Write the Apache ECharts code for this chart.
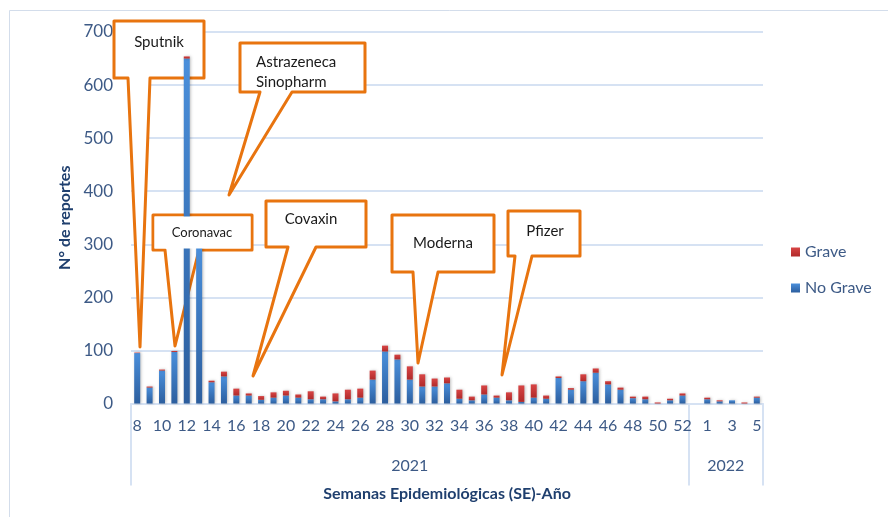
<!DOCTYPE html>
<html>
<head>
<meta charset="utf-8">
<title>Reportes por semana epidemiológica</title>
<script src="https://cdn.jsdelivr.net/npm/echarts@6/dist/echarts.min.js"></script>
<style>
    html, body { margin: 0; padding: 0; background: #fff; }
    #chart { width: 888px; height: 517px; }
</style>
</head>
<body>
<div id="chart"></div>
<script>
// semanas 2021 (8..52), luego un hueco y 2022 (1..5)
var weeks2021 = ['8','9','10','11','12','13','14','15','16','17','18','19','20','21','22','23','24','25','26','27',
    '28','29','30','31','32','33','34','35','36','37','38','39','40','41','42','43','44','45','46','47',
    '48','49','50','51','52'];
var weeks2022 = ['', '1','2','3','4','5'];
var years = ['2021', '2022'];

var noGrave2021 = [95, 30, 62, 97, 650, 296, 40, 51, 15, 15, 7, 11, 15, 11, 8, 8, 4, 8, 11, 45,
    98, 83, 45, 32, 32, 38, 9, 6, 17, 11, 6, 3, 11, 9, 48, 26, 42, 58, 36, 26,
    10, 8, 0, 6, 15];
var grave2021 = [1, 2, 2, 2, 4, 1, 3, 9, 13, 4, 7, 10, 9, 6, 15, 5, 15, 18, 17, 17,
    11, 9, 25, 23, 15, 11, 17, 7, 17, 4, 15, 31, 25, 6, 3, 3, 13, 8, 6, 4,
    3, 5, 2, 3, 4];
var noGrave2022 = [null, 8, 4, 6, 0, 11];
var grave2022 = [null, 3, 2, 0, 2, 2];

var categories = weeks2021.concat(weeks2022);
var noGrave = noGrave2021.concat(noGrave2022);
var grave = grave2021.concat(grave2022);

// limites y centros de cada año sobre el eje
var groupSizes = [weeks2021.length, weeks2022.length];
var bounds = [0], centers = [];
groupSizes.forEach(function (n, i) {
    centers.push(bounds[i] + n / 2);
    bounds.push(bounds[i] + n);
});

var labelColor = '#3D5A86';
var titleColor = '#1F3F6E';
var gridColor = '#D6E2F3';
var orange = '#E8740F';
var font = 'Lato';

var chart = echarts.init(document.getElementById('chart'));

function callout(points, texts, textZ) {
    var els = [{
        type: 'polygon',
        z: 1,
        shape: { points: points },
        style: { fill: '#fff', stroke: orange, lineWidth: 3, lineJoin: 'round' }
    }];
    texts.forEach(function (t) {
        els.push({
            type: 'text', z: textZ || 1, x: t[0], y: t[1],
            style: { text: t[2], fill: '#1a1a1a', font: (t[4] || 15) + 'px ' + font,
                     align: t[3] || 'center', verticalAlign: 'middle' }
        });
    });
    return els;
}

var notes = [].concat(
    callout([[114,21],[204,21],[204,78],[150,78],[140,347],[128,78],[114,78]],
        [[159,42,'Sputnik']]),
    callout([[240,43],[365,43],[365,92],[292,92],[229,195],[260,92],[240,92]],
        [[256,62,'Astrazeneca','left'],[256,82,'Sinopharm','left']]),
    callout([[153,215],[252,215],[252,250],[199,250],[175,346],[165,250],[153,250]],
        [[202,233,'Coronavac','center',13]], 4),
    callout([[266,201],[366,201],[366,247],[316,247],[253,376],[288,247],[266,247]],
        [[311,219,'Covaxin']]),
    callout([[392,215],[494,215],[494,272],[438,272],[418,363],[413,272],[392,272]],
        [[443,243,'Moderna']]),
    callout([[508,211],[580,211],[580,256],[532,256],[502,375],[515,256],[508,256]],
        [[545,231,'Pfizer']])
);
// el recuadro de Coronavac queda por encima de las barras
notes.push({
    type: 'rect', z: 3, silent: true,
    shape: { x: 154.5, y: 216.5, width: 96, height: 32 },
    style: { fill: '#fff' }
});
notes.push({
    type: 'rect', z: 0, silent: true,
    shape: { x: 9.5, y: 10.5, width: 900, height: 520 },
    style: { fill: 'none', stroke: '#D3DDEB', lineWidth: 1 }
});

var option = {
    animation: false,
    textStyle: { fontFamily: font },
    grid: { left: 131, right: 125, top: 32, bottom: 113.5 },
    legend: {
        data: ['Grave', 'No Grave'],
        orient: 'vertical',
        left: 786, top: 239,
        itemWidth: 9, itemHeight: 9, itemGap: 20,
        icon: 'rect',
        textStyle: { color: labelColor, fontSize: 16, fontFamily: font }
    },
    xAxis: [{
        type: 'category',
        data: categories,
        position: 'bottom',
        axisLine: { lineStyle: { color: gridColor, width: 2 } },
        axisTick: { show: false },
        axisLabel: { interval: 1, color: labelColor, fontSize: 16, margin: 14 },
        name: 'Semanas Epidemiológicas (SE)-Año',
        nameLocation: 'middle',
        nameGap: 82,
        nameTextStyle: { color: titleColor, fontSize: 16, fontWeight: 'bold' }
    }, {
        type: 'value',
        min: 0, max: bounds[bounds.length - 1],
        position: 'bottom',
        offset: 0,
        axisLine: { show: false },
        splitLine: { show: false },
        axisTick: { show: true, length: 82, customValues: bounds,
                    lineStyle: { color: gridColor, width: 2 } },
        axisLabel: {
            customValues: centers,
            color: labelColor, fontSize: 16, margin: 54,
            formatter: function (v) { return years[centers.indexOf(v)]; }
        }
    }],
    yAxis: {
        type: 'value',
        min: 0, max: 700, interval: 100,
        axisLine: { show: false },
        axisTick: { show: false },
        axisLabel: { color: labelColor, fontSize: 17, margin: 18 },
        splitLine: { lineStyle: { color: gridColor, width: 2 } },
        name: 'N° de reportes',
        nameLocation: 'middle',
        nameRotate: 90,
        nameGap: 58,
        nameTextStyle: { color: titleColor, fontSize: 16, fontWeight: 'bold' }
    },
    series: [{
        name: 'No Grave',
        type: 'bar',
        stack: 'total',
        barWidth: 6,
        data: noGrave,
        itemStyle: {
            color: { type: 'linear', x: 0, y: 0, x2: 0, y2: 1,
                colorStops: [{ offset: 0, color: '#4A8FDB' }, { offset: 1, color: '#2C5E9E' }] },
            shadowColor: 'rgba(0,0,0,0.25)', shadowBlur: 3, shadowOffsetX: 1
        }
    }, {
        name: 'Grave',
        type: 'bar',
        stack: 'total',
        barWidth: 6,
        data: grave,
        itemStyle: {
            color: { type: 'linear', x: 0, y: 0, x2: 0, y2: 1,
                colorStops: [{ offset: 0, color: '#D84545' }, { offset: 1, color: '#B02A2A' }] },
            shadowColor: 'rgba(0,0,0,0.25)', shadowBlur: 3, shadowOffsetX: 1
        }
    }],
    graphic: notes
};
chart.setOption(option);
</script>
</body>
</html>
